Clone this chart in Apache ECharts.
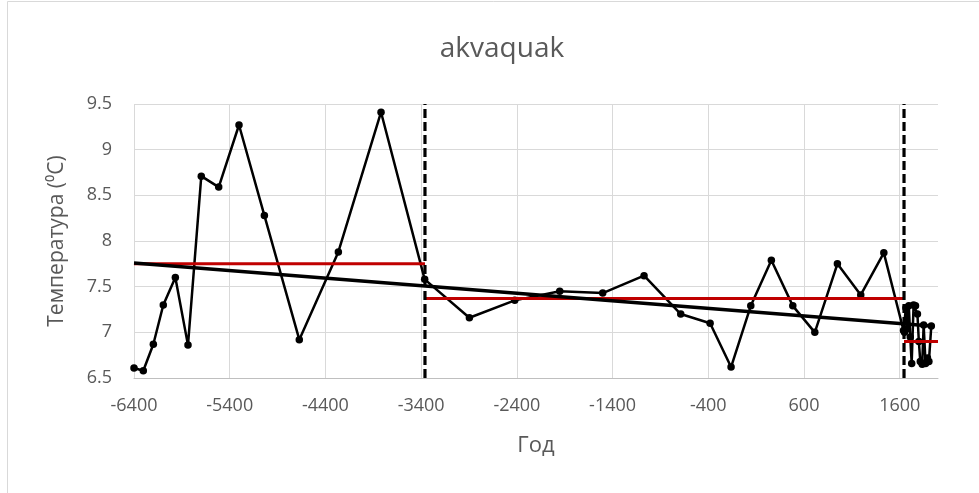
<!DOCTYPE html>
<html><head><meta charset="utf-8">
<script src="https://cdn.jsdelivr.net/npm/echarts@6/dist/echarts.min.js"></script>
<style>html,body{margin:0;padding:0;background:#fff}#c{width:979px;height:493px}</style>
</head><body><div id="c"></div>
<script>
const chartTitle = 'akvaquak';
const xName = 'Год';
const yName = 'Температура (⁰C)';
const years = [-6400,-6303,-6198,-6094,-5968,-5836,-5697,-5515,-5303,-5038,-4673,-4265,-3819,-3363,-2896,-2422,-1952,-1503,-1071,-688,-381,-162,44,259,483,713,949,1193,1434,
  1640,1650,1665,1680,1695,1710,1725,1745,1765,1785,1800,1815,1835,1850,1870,1890,1905,1930];
const temps = [6.61,6.58,6.87,7.30,7.60,6.86,8.71,8.59,9.27,8.28,6.92,7.88,9.41,7.58,7.16,7.35,7.45,7.43,7.62,7.20,7.10,6.62,7.29,7.79,7.29,7.00,7.75,7.41,7.87,
  7.02,7.00,7.27,7.04,7.29,6.95,6.66,7.30,7.29,7.20,6.90,6.68,6.65,7.08,6.66,6.72,6.68,7.07];
const periodBreaks = [-3360, 1645];
const periodStart = [-6400, -3360, 1645];
const periodEnd = [-3360, 1645, 2000];
const periodMean = [7.75, 7.37, 6.90];
const trendX = [-6400, 1930];
const trendY = [7.76, 7.07];
const yMin = 6.5, yMax = 9.5;

const font = 'Open Sans';
const grey = '#595959';
const series = [];
series.push({
  type: 'line', data: years.map((x, i) => [x, temps[i]]),
  lineStyle: { color: '#000', width: 2.5 }, itemStyle: { color: '#000' },
  symbol: 'circle', symbolSize: 7.5, z: 3
});
periodMean.forEach((m, i) => series.push({
  type: 'line', data: [[periodStart[i], m], [periodEnd[i], m]],
  lineStyle: { color: '#c00000', width: 3 }, symbol: 'none', z: 4
}));
series.push({
  type: 'line', data: trendX.map((x, i) => [x, trendY[i]]),
  lineStyle: { color: '#000', width: 3.5 }, symbol: 'none', z: 5
});
periodBreaks.forEach(b => series.push({
  type: 'line', data: [[b, yMin], [b, yMax]],
  lineStyle: { color: '#000', width: 3.2, type: [9, 4] }, symbol: 'none', z: 6
}));

const chart = echarts.init(document.getElementById('c'), null, { renderer: 'canvas' });
chart.setOption({
  animation: false,
  backgroundColor: '#fff',
  textStyle: { fontFamily: font },
  graphic: [{ type: 'rect', shape: { x: 7.5, y: 1.5, width: 1100, height: 700 },
    style: { fill: 'none', stroke: '#d9d9d9', lineWidth: 1 }, silent: true }],
  title: { text: chartTitle, left: 497, textAlign: 'center', top: 30,
    textStyle: { fontFamily: font, fontSize: 28, fontWeight: 'normal', color: grey } },
  grid: { left: 134, right: 41, top: 104, bottom: 115 },
  xAxis: {
    type: 'value', min: -6400, max: 2000, interval: 1000,
    name: xName, nameLocation: 'middle', nameGap: 57,
    nameTextStyle: { fontFamily: font, fontSize: 22, color: grey },
    axisLine: { show: true, lineStyle: { color: '#bfbfbf', width: 1 } },
    axisTick: { show: false },
    axisLabel: { color: grey, fontSize: 18, margin: 19, showMaxLabel: false, fontFamily: font,
      formatter: v => String(v) },
    splitLine: { show: true, showMaxLine: false, lineStyle: { color: '#d9d9d9', width: 1 } }
  },
  yAxis: {
    type: 'value', min: yMin, max: yMax, interval: 0.5,
    name: yName, nameLocation: 'middle', nameGap: 66,
    nameTextStyle: { fontFamily: font, fontSize: 21, color: grey },
    axisLine: { show: false }, axisTick: { show: false },
    axisLabel: { color: grey, fontSize: 18, margin: 22, fontFamily: font,
      formatter: v => String(v) },
    splitLine: { show: true, lineStyle: { color: '#d9d9d9', width: 1 } }
  },
  series: series
});
</script></body></html>
